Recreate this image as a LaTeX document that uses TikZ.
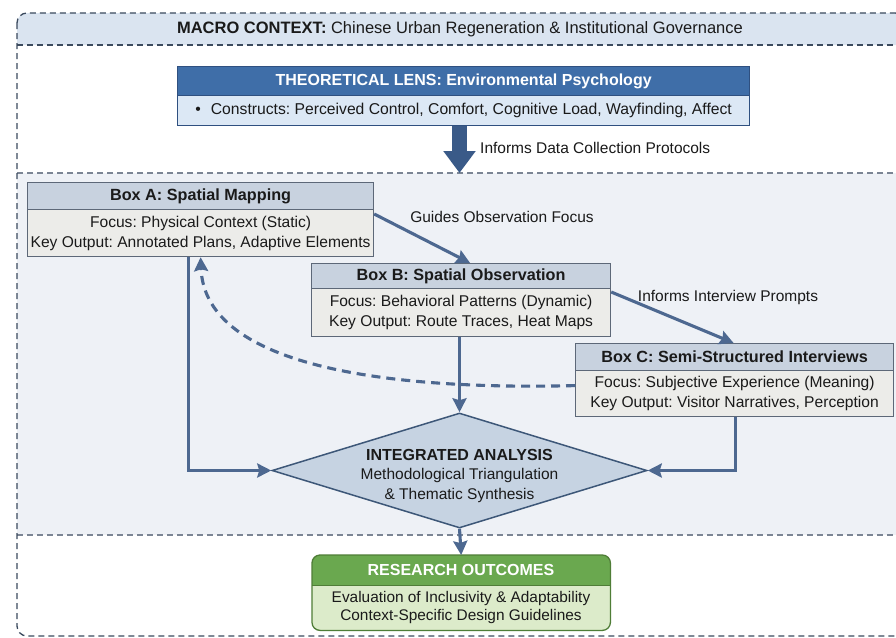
\documentclass[tikz,border=0pt]{standalone}
\usepackage{fontspec}
\setmainfont{Liberation Sans}
\usetikzlibrary{arrows.meta,calc,shapes.geometric}
\definecolor{frameDark}{HTML}{3B4A5E}
\definecolor{sepGrey}{HTML}{7B8594}
\definecolor{headerFill}{HTML}{DAE4F0}
\definecolor{midFill}{HTML}{EEF1F6}
\definecolor{lensDark}{HTML}{3F6EA8}
\definecolor{lensBorder}{HTML}{2F5080}
\definecolor{lensLight}{HTML}{DCE8F5}
\definecolor{boxTitle}{HTML}{C8D2DF}
\definecolor{boxBody}{HTML}{ECECE9}
\definecolor{boxBorder}{HTML}{5D6878}
\definecolor{arrowC}{HTML}{4D6890}
\definecolor{bigArrow}{HTML}{3A5A88}
\definecolor{dFill}{HTML}{C6D3E2}
\definecolor{dBorder}{HTML}{3D5778}
\definecolor{outGreen}{HTML}{6AA84F}
\definecolor{outLight}{HTML}{DCEBCA}
\definecolor{outBorder}{HTML}{4F7D37}
\definecolor{txt}{HTML}{1A1A1A}
\begin{document}
\frenchspacing
\begin{tikzpicture}[x=1pt,y=-1pt,
  every node/.style={text=txt},
  boxtitle/.style={draw=boxBorder, line width=1.2pt, fill=boxTitle, font=\fontsize{16.2}{19}\selectfont\bfseries, inner sep=0pt, anchor=north west},
  boxbody/.style={draw=boxBorder, line width=1.2pt, fill=boxBody, font=\fontsize{15.6}{20}\selectfont, align=center, inner sep=0pt, anchor=north west},
  conn/.style={draw=arrowC, line width=3.1pt, -{Stealth[length=14pt,width=14pt,inset=2pt]}},
  lbl/.style={font=\fontsize{15.5}{19}\selectfont, inner sep=1pt}
]
\useasboundingbox (0,0) rectangle (896,637);
\fill[white] (0,0) rectangle (896,637);
% background bands
\fill[headerFill] (17,45) [rounded corners=10pt] -- (17,13) -- (905,13) [sharp corners] -- (905,45) -- cycle;
\fill[midFill] (17,173) rectangle (905,535);
\draw[frameDark, line width=1.2pt, dash pattern=on 6pt off 4pt] (17,45) -- (905,45);
\draw[sepGrey, line width=1.2pt, dash pattern=on 6pt off 4pt] (17,173) -- (905,173);
\draw[sepGrey, line width=1.2pt, dash pattern=on 6pt off 4pt] (17,535) -- (905,535);
\draw[frameDark, line width=1.3pt, dash pattern=on 6pt off 4pt, rounded corners=10pt] (17,13) rectangle (905,636);

\node[font=\fontsize{16.5}{19}\selectfont] (hdr) at (460,29) {\textbf{MACRO CONTEXT:} Chinese Urban Regeneration \& Institutional Governance};

% theoretical lens
\node[draw=lensBorder, line width=1.3pt, fill=lensDark, text=white, font=\fontsize{16}{19}\selectfont\bfseries, inner sep=0pt, anchor=north west, minimum width=572pt, minimum height=29pt] (Lt) at (177,66) {THEORETICAL LENS: Environmental Psychology};
\node[draw=lensBorder, line width=1.3pt, fill=lensLight, font=\fontsize{15.7}{19}\selectfont, inner sep=0pt, anchor=north west, minimum width=572pt, minimum height=30pt] (Lb) at (177,95) {\textbullet\hspace{10pt}Constructs: Perceived Control, Comfort, Cognitive Load, Wayfinding, Affect};

\coordinate (sep1) at (459.5,173);
\draw[bigArrow, line width=15pt, -{Triangle[length=22pt,width=31pt]}] (sep1 |- Lb.south) -- (sep1);
\node[lbl, anchor=west] (l3) at (479,148) {Informs Data Collection Protocols};

% boxes
\node[boxtitle, minimum width=346pt, minimum height=27pt] (At) at (27,182) {Box A: Spatial Mapping};
\node[boxbody, minimum width=346pt, minimum height=47pt] (Ab) at (27,209) {Focus: Physical Context (Static)\\Key Output: Annotated Plans, Adaptive Elements};

\node[boxtitle, minimum width=299pt, minimum height=25pt] (Bt) at (311,263) {Box B: Spatial Observation};
\node[boxbody, minimum width=299pt, minimum height=48pt] (Bb) at (311,288) {Focus: Behavioral Patterns (Dynamic)\\Key Output: Route Traces, Heat Maps};

\node[boxtitle, minimum width=318pt, minimum height=27pt] (Ct) at (575,343) {Box C: Semi-Structured Interviews};
\node[boxbody, minimum width=318pt, minimum height=46pt] (Cb) at (575,370) {Focus: Subjective Experience (Meaning)\\Key Output: Visitor Narratives, Perception};

% diamond
\node[diamond, draw=dBorder, line width=1.5pt, fill=dFill, minimum width=375pt, minimum height=115pt, inner sep=0pt] (D) at (459.5,470.5) {};
\node[align=center, font=\fontsize{15.5}{19.5}\selectfont] (Dtxt) at (459.5,476) {{\fontsize{16}{19.5}\selectfont\bfseries INTEGRATED ANALYSIS}\\Methodological Triangulation\\\& Thematic Synthesis};

% outcomes
\node[fill=outLight, rounded corners=8pt, minimum width=298pt, minimum height=75pt, anchor=north west, inner sep=0pt] (O) at (312,555) {};
\begin{scope}
\clip (312,555) rectangle (610,585);
\fill[outGreen, rounded corners=8pt] (312,555) rectangle (610,630);
\end{scope}
\draw[outBorder, line width=1pt] (312,585) -- (610,585);
\draw[outBorder, line width=1.3pt, rounded corners=8pt] (O.north west) rectangle (O.south east);
\node[text=white, font=\fontsize{16}{19}\selectfont\bfseries] (Ot) at (461,570) {RESEARCH OUTCOMES};
\node[align=center, font=\fontsize{15.4}{18.5}\selectfont] (Ob) at (461,607.5) {Evaluation of Inclusivity \& Adaptability\\Context-Specific Design Guidelines};

% connectors
\draw[conn] ($(Ab.north east)+(0,5)$) -- ($(Bt.north)+(9,0)$);
\node[lbl] (l1) at (502,217) {Guides Observation Focus};
\draw[conn] ($(Bb.north east)+(0,4)$) -- ($(Ct.north)+(-1,0)$);
\node[lbl] (l2) at (728,297) {Informs Interview Prompts};
\draw[conn] ($(Ab.south)+(-12,0)$) |- (D.west);
\draw[conn] ($(Cb.south)+(1,0)$) |- (D.east);
\draw[conn] (D.north |- Bb.south) -- (D.north);
\draw[conn] (D.south) -- (O.north);
\draw[conn, dash pattern=on 9pt off 6pt] ($(Cb.west)+(0,-8)$) .. controls (400,390) and (205,370) .. ($(Ab.south)+(0,0)$);
\end{tikzpicture}
\end{document}
